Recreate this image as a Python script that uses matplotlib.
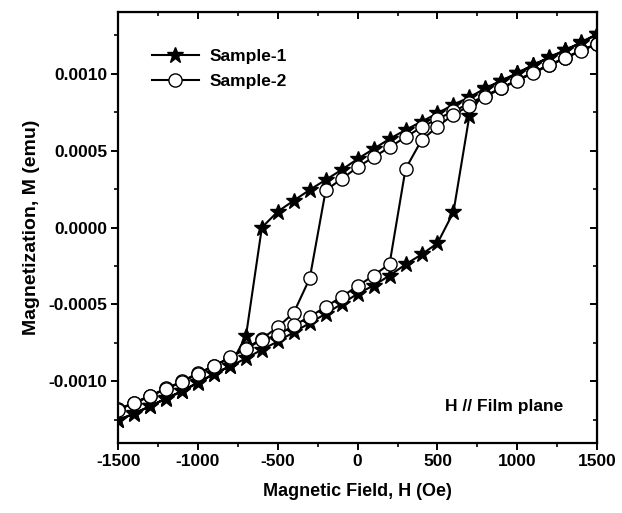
import numpy as np
import matplotlib.pyplot as plt
from matplotlib.ticker import MultipleLocator, FormatStrFormatter

plt.rcParams['font.family'] = ['Liberation Sans', 'DejaVu Sans']
plt.rcParams['font.weight'] = 'bold'
plt.rcParams['axes.unicode_minus'] = False

# field steps (Oe)
h_down = [1500, 1400, 1300, 1200, 1100, 1000, 900, 800, 700, 600, 500, 400, 300, 200, 100, 0,
          -100, -200, -300, -400, -500, -600, -700, -800, -900, -1000, -1100, -1200, -1300, -1400, -1500]
h_up = h_down[::-1]

# Sample-1 (stars), descending then ascending branch (emu)
s1_down = [0.001258, 0.001203, 0.001154, 0.001106, 0.001058, 0.001004, 0.000955, 0.000905, 0.000846,
           0.000799, 0.000742, 0.000688, 0.000634, 0.000576, 0.000511, 0.000446, 0.000375, 0.000310,
           0.000245, 0.000175, 0.000104, 0.0, -0.000708, -0.000900, -0.000953, -0.001006, -0.001062,
           -0.001110, -0.001160, -0.001208, -0.001250]
s1_up = [-0.001253, -0.001210, -0.001162, -0.001112, -0.001065, -0.001009, -0.000950, -0.000903,
         -0.000850, -0.000794, -0.000740, -0.000680, -0.000621, -0.000560, -0.000496, -0.000430,
         -0.000377, -0.000312, -0.000240, -0.000175, -0.000102, 0.000100, 0.000727, 0.000902,
         0.000952, 0.001001, 0.001055, 0.001103, 0.001151, 0.001200, 0.001255]

# Sample-2 (open circles)
s2_down = [0.001193, 0.001154, 0.001102, 0.001058, 0.001008, 0.000959, 0.000907, 0.000857, 0.000807,
           0.000755, 0.000706, 0.000651, 0.000588, 0.000521, 0.000458, 0.000392, 0.000316, 0.000242,
           -0.000330, -0.000553, -0.000647, -0.000723, -0.000785, -0.000845, -0.000900, -0.000945,
           -0.001000, -0.001045, -0.001093, -0.001138, -0.001180]
s2_up = [-0.001184, -0.001141, -0.001097, -0.001048, -0.001004, -0.000950, -0.000903, -0.000842,
         -0.000788, -0.000730, -0.000700, -0.000636, -0.000580, -0.000515, -0.000450, -0.000380,
         -0.000312, -0.000236, 0.000381, 0.000567, 0.000656, 0.000734, 0.000790, 0.000850,
         0.000904, 0.000955, 0.001004, 0.001054, 0.001099, 0.001150, 0.001190]

fig = plt.figure(figsize=(6.22, 5.13), dpi=100)
ax = fig.add_axes([0.19, 0.1365, 0.77, 0.84])

lw = 1.5
ax.plot(h_down + h_up, s1_down + s1_up, color='black', lw=lw, marker='*', ms=12,
        mfc='black', mec='black', label='Sample-1')
ax.plot(h_down + h_up, s2_down + s2_up, color='black', lw=lw, marker='o', ms=9.5,
        mfc='white', mec='black', mew=1.0, label='Sample-2')

ax.set_xlim(-1500, 1500)
ax.set_ylim(-0.0014, 0.0014)
ax.xaxis.set_major_locator(MultipleLocator(500))
ax.xaxis.set_minor_locator(MultipleLocator(250))
ax.yaxis.set_major_locator(MultipleLocator(0.0005))
ax.yaxis.set_minor_locator(MultipleLocator(0.00025))
ax.yaxis.set_major_formatter(FormatStrFormatter('%.4f'))

for s in ax.spines.values():
    s.set_linewidth(1.6)
ax.tick_params(which='major', direction='out', length=5, width=1.4, labelsize=12.5, pad=3)
ax.tick_params(which='minor', direction='out', length=3, width=1.2)

# mirrored ticks pointing inward on top and right
top = ax.secondary_xaxis('top')
top.xaxis.set_major_locator(MultipleLocator(500))
top.xaxis.set_minor_locator(MultipleLocator(250))
top.tick_params(which='major', direction='in', length=5, width=1.4, labeltop=False)
top.tick_params(which='minor', direction='in', length=3, width=1.2)
right = ax.secondary_yaxis('right')
right.yaxis.set_major_locator(MultipleLocator(0.0005))
right.yaxis.set_minor_locator(MultipleLocator(0.00025))
right.tick_params(which='major', direction='in', length=5, width=1.4, labelright=False)
right.tick_params(which='minor', direction='in', length=3, width=1.2)

ax.set_xlabel('Magnetic Field, H (Oe)', fontsize=13, fontweight='bold', labelpad=10)
ax.set_ylabel('Magnetization, M (emu)', fontsize=14, fontweight='bold', labelpad=6)

ax.legend(loc='upper left', bbox_to_anchor=(0.07, 0.915), frameon=False, fontsize=12.5,
          handlelength=2.7, handletextpad=0.65, labelspacing=0.6, borderaxespad=0,
          borderpad=0)

ax.text(0.93, 0.085, 'H // Film plane', transform=ax.transAxes, ha='right', va='center',
        fontsize=12.5, fontweight='bold')

fig.savefig('out.png', dpi=100)
